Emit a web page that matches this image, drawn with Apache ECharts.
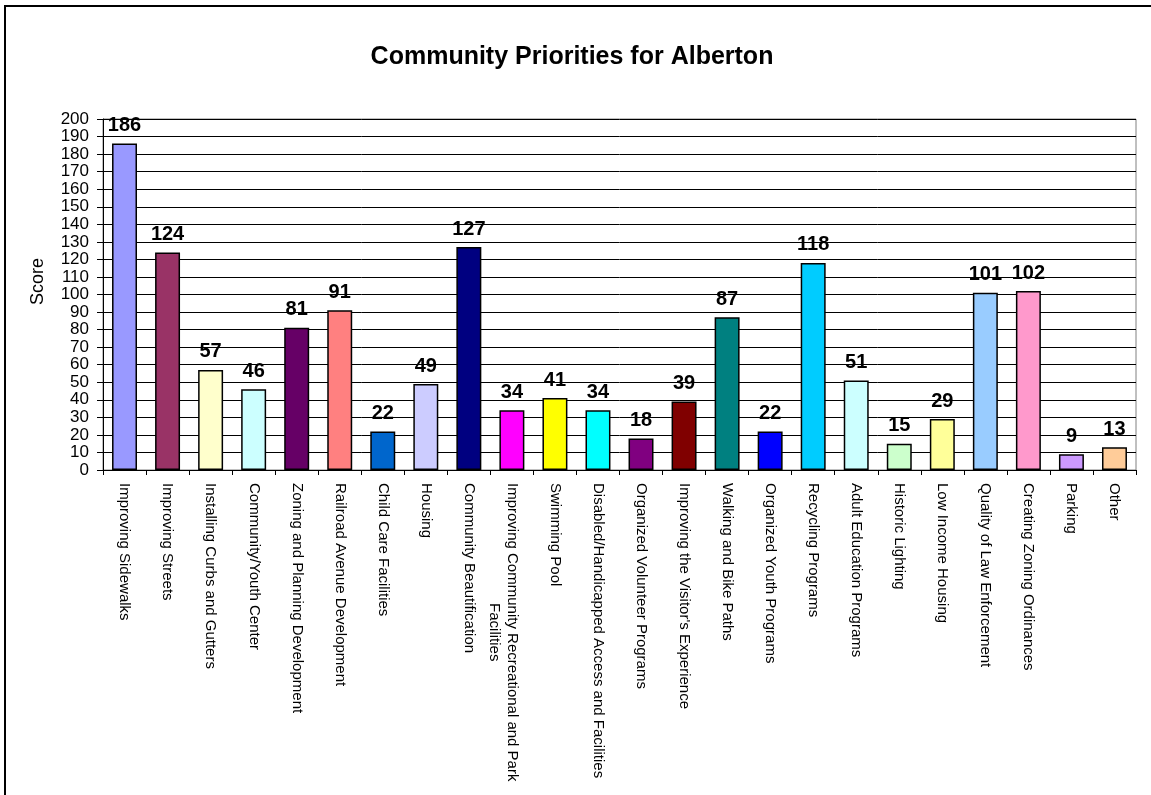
<!DOCTYPE html>
<html>
<head>
<meta charset="utf-8">
<title>Community Priorities for Alberton</title>
<script src="https://cdn.jsdelivr.net/npm/echarts@6/dist/echarts.min.js"></script>
<style>
  html, body { margin: 0; padding: 0; background: #fff; }
  #chart { width: 1151px; height: 795px; }
</style>
</head>
<body>
<div id="chart"></div>
<script>
// Survey categories, in the order they appear along the x axis
const categories = [
  'Improving Sidewalks',
  'Improving Streets',
  'Installing Curbs and Gutters',
  'Community/Youth Center',
  'Zoning and Planning Development',
  'Railroad Avenue Development',
  'Child Care Facilities',
  'Housing',
  'Community Beautification',
  'Improving Community Recreational and Park\nFacilities',
  'Swimming Pool',
  'Disabled/Handicapped Access and Facilities',
  'Organized Volunteer Programs',
  "Improving the Visitor's Experience",
  'Walking and Bike Paths',
  'Organized Youth Programs',
  'Recycling Programs',
  'Adult Education Programs',
  'Historic Lighting',
  'Low Income Housing',
  'Quality of Law Enforcement',
  'Creating Zoning Ordinances',
  'Parking',
  'Other'
];

// Score for each category
const scores = [186, 124, 57, 46, 81, 91, 22, 49, 127, 34, 41, 34, 18, 39, 87, 22, 118, 51, 15, 29, 101, 102, 9, 13];

// One fill per bar
const barColors = [
  '#9999FF', '#993366', '#FFFFCC', '#CCFFFF', '#660066', '#FF8080',
  '#0066CC', '#CCCCFF', '#000080', '#FF00FF', '#FFFF00', '#00FFFF',
  '#800080', '#800000', '#008080', '#0000FF', '#00CCFF', '#CCFFFF',
  '#CCFFCC', '#FFFF99', '#99CCFF', '#FF99CC', '#CC99FF', '#FFCC99'
];

// Score axis
const scoreMin = 0;
const scoreMax = 200;
const scoreStep = 10;

const FONT = '"Liberation Sans", Arial, Helvetica, sans-serif';

const chart = echarts.init(document.getElementById('chart'), null, { renderer: 'canvas' });

// Category axis entries; a wrapped label gets extra top padding so its first line sits on the tick
const axisData = categories.map(function (name) {
  if (name.indexOf('\n') >= 0) {
    return { value: name, textStyle: { padding: [18, 0, 0, 0] } };
  }
  return name;
});

const barData = scores.map(function (v, i) {
  return { value: v, itemStyle: { color: barColors[i] } };
});

chart.setOption({
  animation: false,
  backgroundColor: '#ffffff',
  title: {
    text: 'Community Priorities for Alberton',
    left: 567,
    top: 40,
    textAlign: 'center',
    textStyle: { fontFamily: FONT, fontSize: 25, fontWeight: 'bold', color: '#000' }
  },
  graphic: [{
    type: 'rect',
    shape: { x: 5, y: 6, width: 1170, height: 820 },
    style: { fill: 'none', stroke: '#000', lineWidth: 2 },
    silent: true
  }],
  grid: {
    left: 103,
    right: 15,
    top: 119,
    bottom: 325,
    show: true,
    borderColor: '#808080',
    borderWidth: 1,
    backgroundColor: 'transparent'
  },
  xAxis: {
    type: 'category',
    data: axisData,
    axisLine: { show: true, lineStyle: { color: '#000', width: 1 } },
    axisTick: { show: true, length: 5, inside: false, lineStyle: { color: '#000' } },
    axisLabel: {
      interval: 0,
      rotate: -90,
      margin: 13,
      fontFamily: FONT,
      fontSize: 15,
      color: '#000',
      lineHeight: 18,
      formatter: function (value) {
        return value.split('\n').map(function (line) { return '{c|' + line + '}'; }).join('\n');
      },
      rich: {
        c: { align: 'center', fontFamily: FONT, fontSize: 15, color: '#000', lineHeight: 18 }
      }
    },
    splitLine: { show: false }
  },
  yAxis: {
    type: 'value',
    min: scoreMin,
    max: scoreMax,
    interval: scoreStep,
    name: 'Score',
    nameLocation: 'middle',
    nameGap: 56,
    nameRotate: 90,
    nameTextStyle: { fontFamily: FONT, fontSize: 18, color: '#000', padding: [0, 0, 0, 26] },
    axisLine: { show: true, lineStyle: { color: '#000', width: 1 } },
    axisTick: { show: true, length: 6, inside: false, lineStyle: { color: '#000' } },
    axisLabel: {
      margin: 14,
      fontFamily: FONT,
      fontSize: 17,
      color: '#000',
      showMinLabel: true,
      showMaxLabel: true,
      hideOverlap: false
    },
    splitLine: { show: true, lineStyle: { color: '#000', width: 1 } }
  },
  series: [{
    type: 'bar',
    data: barData,
    barCategoryGap: '42%',
    itemStyle: { borderColor: '#000', borderWidth: 1.5 },
    label: {
      show: true,
      position: 'top',
      distance: 8,
      fontFamily: FONT,
      fontSize: 20,
      fontWeight: 'bold',
      color: '#000'
    }
  }]
});
</script>
</body>
</html>
